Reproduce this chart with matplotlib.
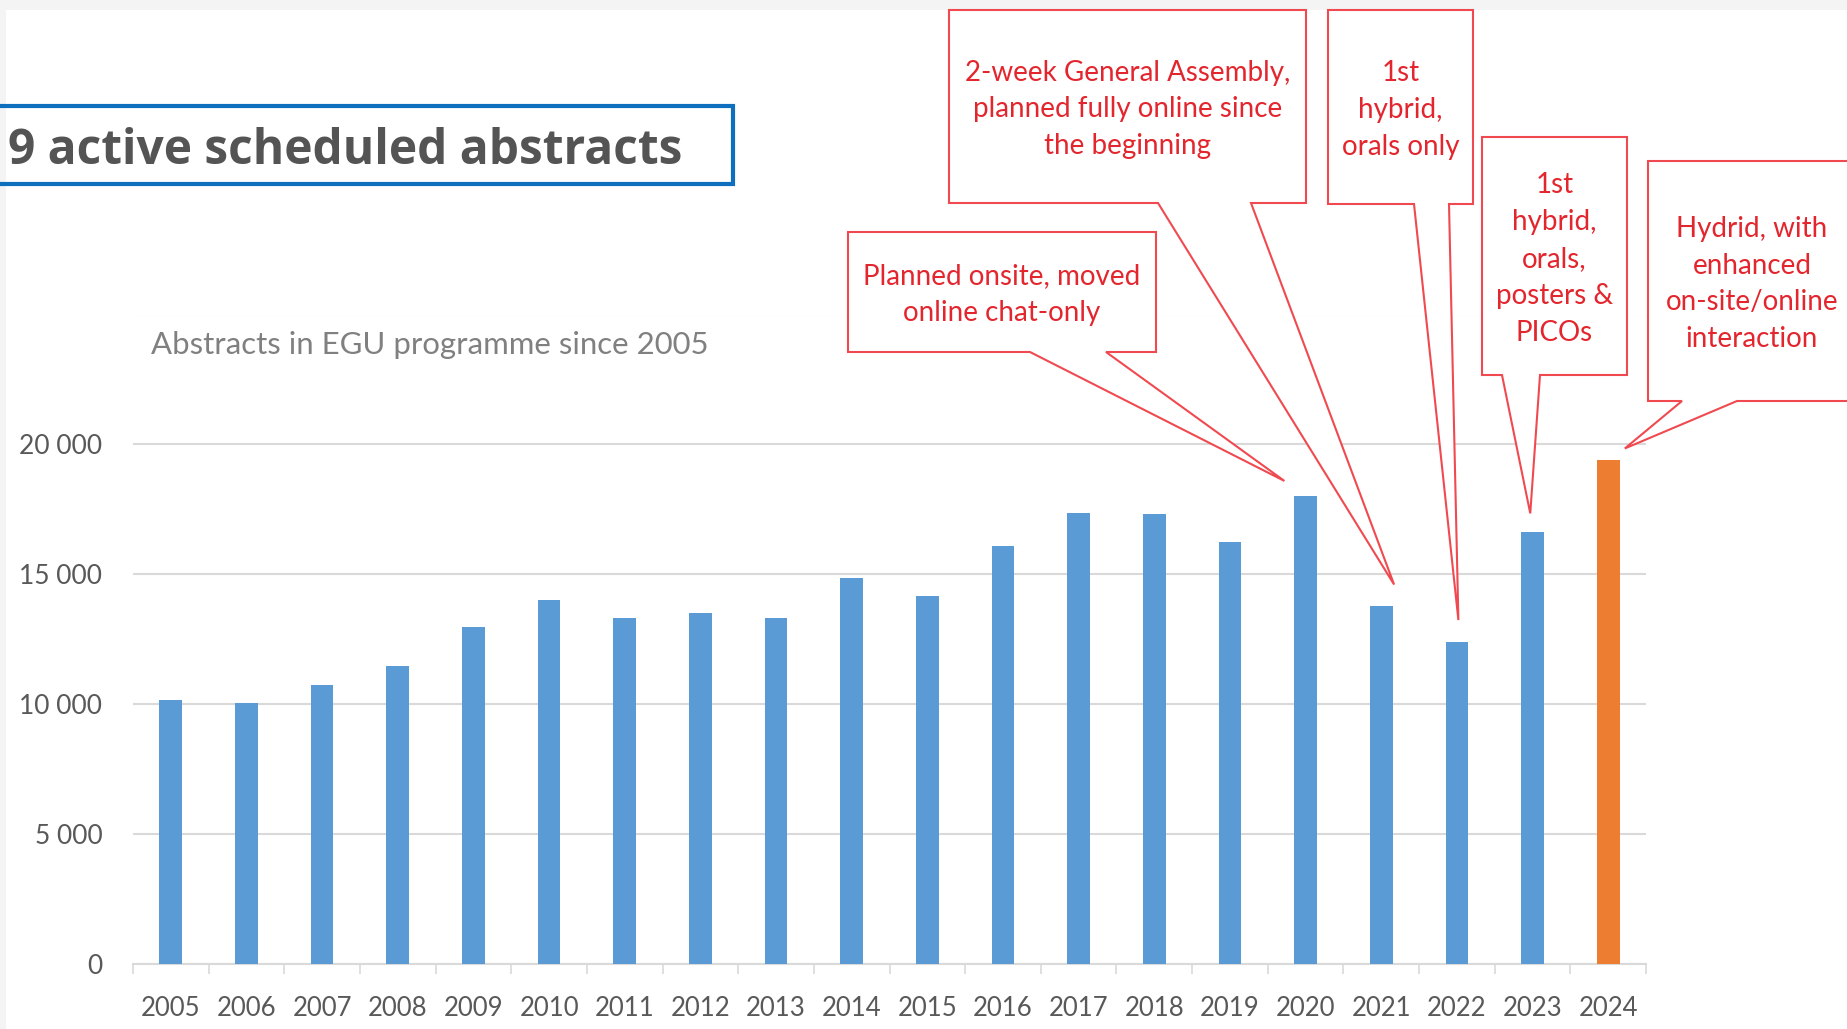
import matplotlib

matplotlib.use("Agg")

import matplotlib.pyplot as plt
from matplotlib.patches import Polygon, Rectangle
from matplotlib.ticker import FuncFormatter, MultipleLocator


W, H = 1847, 1029

# values
YEARS = [str(y) for y in range(2005, 2025)]
ABSTRACTS = [10150, 10050, 10730, 11470, 12970, 13990, 13300, 13520, 13300, 14850,
             14170, 16070, 17370, 17310, 16220, 18000, 13780, 12370, 16610, 19390]
HIGHLIGHT_YEAR = "2024"

HEADING = "9 active scheduled abstracts"
CHART_TITLE = "Abstracts in EGU programme since 2005"

# callouts: text, year pointed at, box (x0, y0, x1, y1 in px, y down), pointer base x's, tip offset (dx cat, dy value)
CALLOUT_TEXTS = [
    "Planned onsite, moved\nonline chat-only",
    "2-week General Assembly,\nplanned fully online since\nthe beginning",
    "1st\nhybrid,\norals only",
    "1st\nhybrid,\norals,\nposters &\nPICOs",
    "Hydrid, with\nenhanced\non-site/online\ninteraction",
]
CALLOUT_YEARS = ["2020", "2021", "2022", "2023", "2024"]
CALLOUT_BOXES = [
    (848, 232, 1156, 352),
    (949, 10, 1306, 203),
    (1328, 10, 1473, 204),
    (1482, 137, 1627, 375),
    (1648, 161, 1860, 401),
]
CALLOUT_BASES = [(1030, 1106), (1158, 1251), (1414, 1449), (1502, 1540), (1682, 1737)]
CALLOUT_TIP_OFFSETS = [(-0.28, 590), (0.17, 820), (0.02, 860), (-0.03, 730), (0.22, 450)]

BLUE = "#5b9bd5"
ORANGE = "#ed7d31"
GRID = "#d9d9d9"
LABEL = "#595959"
RED_TEXT = "#e3262e"
RED_LINE = "#f04a50"

FONT = ["Lato", "DejaVu Sans"]


def to_px(ax, x, y):
    # data -> output pixels with origin top-left
    dx, dy = ax.transData.transform((x, y))
    return dx, H - dy


def main():
    fig = plt.figure(figsize=(W / 100, H / 100), dpi=100)
    fig.patch.set_facecolor("white")

    left, right, top, bottom = 133, 1646, 314.5, 963.6
    ax = fig.add_axes([left / W, 1 - bottom / H, (right - left) / W, (bottom - top) / H])

    xs = list(range(len(YEARS)))
    colors = [ORANGE if y == HIGHLIGHT_YEAR else BLUE for y in YEARS]
    ax.bar(xs, ABSTRACTS, width=0.3, color=colors, zorder=3)

    ax.set_xlim(-0.5, len(YEARS) - 0.5)
    ax.set_ylim(0, 25000)
    ax.yaxis.set_major_locator(MultipleLocator(5000))
    ax.yaxis.set_major_formatter(
        FuncFormatter(lambda v, _: "" if v >= 25000 else ("{:,.0f}".format(v).replace(",", " ")))
    )
    ax.grid(axis="y", color=GRID, linewidth=1.5, zorder=0)
    ax.set_xticks(xs)
    ax.set_xticklabels(YEARS)
    ax.set_xticks([i - 0.5 for i in range(len(YEARS) + 1)], minor=True)
    ax.tick_params(axis="x", which="major", length=0, pad=23, labelsize=18.5, labelcolor=LABEL)
    ax.tick_params(axis="x", which="minor", length=7, color=GRID, width=1.2)
    ax.tick_params(axis="y", length=0, pad=22, labelsize=19, labelcolor=LABEL)
    for lab in ax.get_xticklabels() + ax.get_yticklabels():
        lab.set_family(FONT)
    for side in ("left", "right", "top"):
        ax.spines[side].set_visible(False)
    ax.spines["bottom"].set_color(GRID)
    ax.spines["bottom"].set_linewidth(1.5)

    # overlay in pixel coordinates for heading and callouts
    ov = fig.add_axes([0, 0, 1, 1], zorder=10)
    ov.set_xlim(0, W)
    ov.set_ylim(H, 0)
    ov.axis("off")
    ov.patch.set_alpha(0)

    ov.add_patch(Rectangle((0, 0), W, 10, color="#f4f4f4", lw=0))
    ov.add_patch(Rectangle((0, 0), 6, H, color="#f4f4f4", lw=0))

    ov.add_patch(Rectangle((-10, 106), 743, 78, fill=False, edgecolor="#0f6fbf", linewidth=3))
    ov.text(8, 151, HEADING, family=["Open Sans", "DejaVu Sans"], fontweight="bold",
            fontsize=34.5, color="#545454", va="center", ha="left")

    ov.text(151, 345, CHART_TITLE, family=FONT, fontsize=22.4, color="#808080", va="center", ha="left")

    for text, year, box, base, off in zip(CALLOUT_TEXTS, CALLOUT_YEARS, CALLOUT_BOXES,
                                          CALLOUT_BASES, CALLOUT_TIP_OFFSETS):
        i = YEARS.index(year)
        tip = to_px(ax, i + off[0], ABSTRACTS[i] + off[1])
        x0, y0, x1, y1 = box
        pts = [(x0, y0), (x1, y0), (x1, y1), (base[1], y1), tip, (base[0], y1), (x0, y1)]
        ov.add_patch(Polygon(pts, closed=True, facecolor="white", edgecolor=RED_LINE, linewidth=1.5))
        cx = (x0 + x1) / 2 if x1 <= W else (x0 + 1856) / 2
        ov.text(cx, (y0 + y1) / 2 + 3, text,
                family=FONT, fontsize=20, color=RED_TEXT, ha="center", va="center", linespacing=1.52)

    fig.savefig("out.png", dpi=100)
    plt.close(fig)


if __name__ == "__main__":
    main()
